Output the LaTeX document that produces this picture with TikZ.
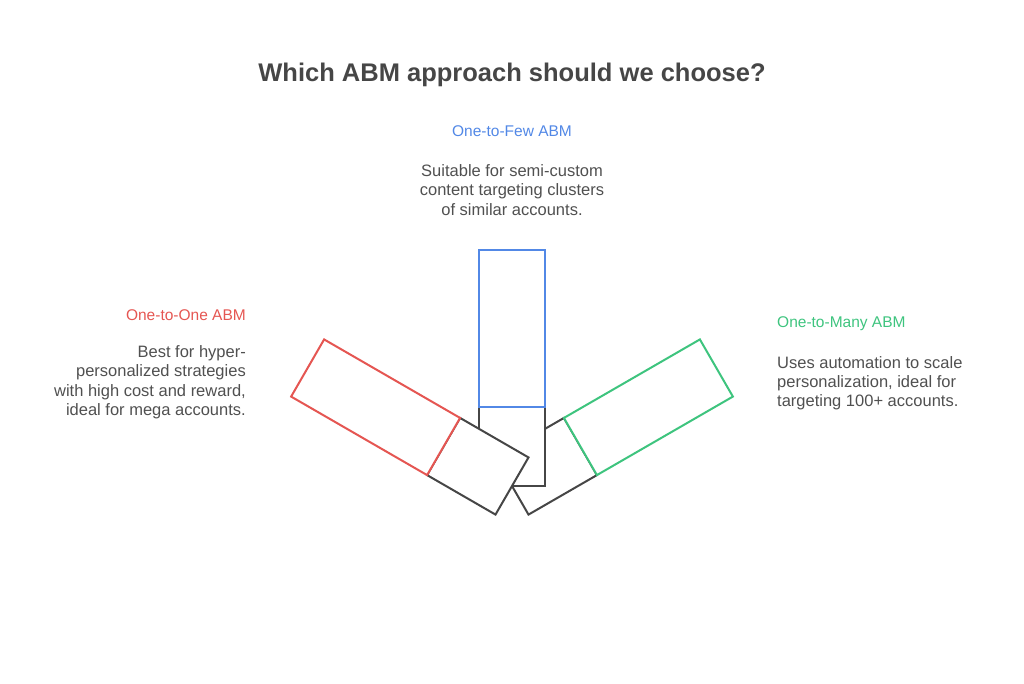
\documentclass[tikz,border=0pt]{standalone}
\usepackage{fontspec}
\setmainfont{Liberation Sans}
\usetikzlibrary{positioning}

\definecolor{oneRed}{RGB}{229,86,82}
\definecolor{fewBlue}{RGB}{82,136,230}
\definecolor{manyGreen}{RGB}{62,196,126}
\definecolor{baseGray}{RGB}{70,70,70}
\definecolor{textGray}{RGB}{80,80,80}

\tikzset{
  title/.style={font=\fontsize{25.5}{30}\selectfont\bfseries, text=baseGray},
  head/.style={font=\fontsize{15.5}{19}\selectfont, inner sep=0pt},
  body/.style={font=\fontsize{16.5}{19.3}\selectfont, text=textGray, inner sep=0pt},
  inner part/.style={draw=baseGray, line width=2pt, fill=white},
  outer part/.style={line width=2pt, fill=white}
}

\begin{document}
\begin{tikzpicture}[x=1pt, y=-1pt]
        \useasboundingbox (0,0) rectangle (1024,683);

        % Title
        \node[title] (title) at (512,75) {Which ABM approach should we choose?};

        % Pivot of the fan
        \coordinate (pivot) at (512,486);

        % One-to-Many bar (right)
        \begin{scope}[shift={(pivot)}, rotate=-60]
          \draw[inner part] (-33,0) rectangle (33,-79);
          \draw[outer part, draw=manyGreen] (-33,-79) rectangle (33,-236);
        \end{scope}

        % One-to-Few bar (middle)
        \begin{scope}[shift={(pivot)}]
          \draw[inner part] (-33,0) rectangle (33,-79);
          \draw[outer part, draw=fewBlue] (-33,-79) rectangle (33,-236);
        \end{scope}

        % One-to-One bar (left)
        \begin{scope}[shift={(pivot)}, rotate=60]
          \draw[inner part] (-33,0) rectangle (33,-79);
          \draw[outer part, draw=oneRed] (-33,-79) rectangle (33,-236);
        \end{scope}

        % One-to-Few text
        \node[head, text=fewBlue, anchor=base] (headFew) at (512,136) {One-to-Few ABM};
        \node[body, align=center, anchor=north] (txtFew) at ([yshift=-28pt]headFew.south)
          {Suitable for semi-custom\\content targeting clusters\\of similar accounts.};

        % One-to-One text
        \node[head, text=oneRed, anchor=base east] (headOne) at (246,320) {One-to-One ABM};
        \node[body, align=right, anchor=north east] (txtOne) at ([yshift=-25pt]headOne.south east)
          {Best for hyper-\\personalized strategies\\with high cost and reward,\\ideal for mega accounts.};

        % One-to-Many text
        \node[head, text=manyGreen, anchor=base west] (headMany) at (777,327) {One-to-Many ABM};
        \node[body, align=left, anchor=north west] (txtMany) at ([yshift=-25.5pt]headMany.south west)
          {Uses automation to scale\\personalization, ideal for\\targeting 100+ accounts.};
      \end{tikzpicture}
\end{document}
